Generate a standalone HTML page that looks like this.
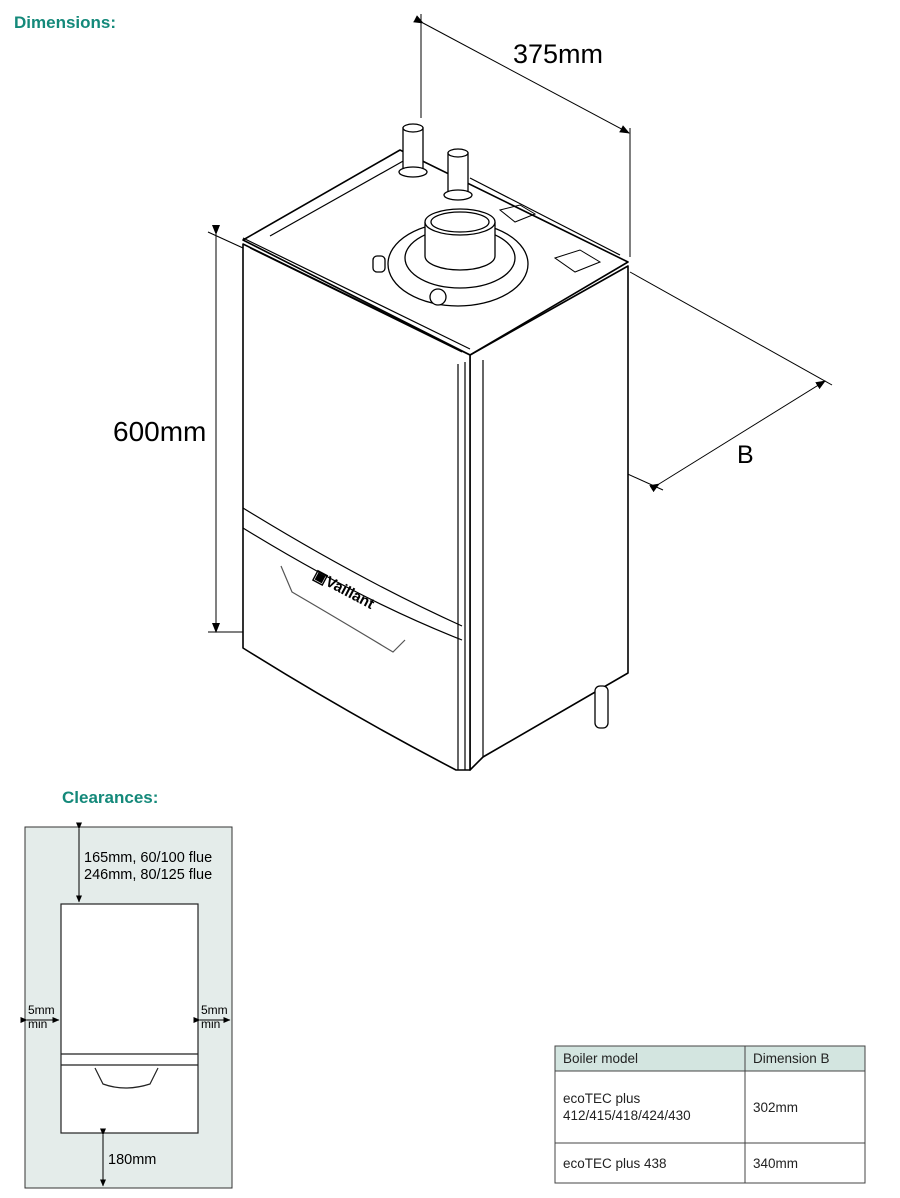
<!DOCTYPE html>
<html><head><meta charset="utf-8"><style>
html,body{margin:0;padding:0;background:#fff;}
svg{display:block;}
text{font-family:"Liberation Sans",sans-serif;}
</style></head><body>
<svg width="900" height="1198" viewBox="0 0 900 1198" xmlns="http://www.w3.org/2000/svg">
<defs>
<marker id="ar" markerWidth="10" markerHeight="8" refX="9" refY="4" orient="auto" markerUnits="userSpaceOnUse"><path d="M0,0 L10,4 L0,8 z" fill="#000"/></marker>
<marker id="as" markerWidth="7" markerHeight="6" refX="6.5" refY="3" orient="auto" markerUnits="userSpaceOnUse"><path d="M0,0 L7,3 L0,6 z" fill="#000"/></marker>
</defs>
<text x="14" y="28" font-size="17" font-weight="bold" fill="#14897a">Dimensions:</text>
<text x="62" y="803" font-size="17" font-weight="bold" fill="#14897a">Clearances:</text>

<g stroke="#000" fill="none" stroke-width="1">
<line x1="421" y1="14" x2="421" y2="118"/>
<line x1="630" y1="128" x2="630" y2="257"/>
<line x1="423" y1="23" x2="629" y2="133" marker-start="url(#ar)" marker-end="url(#ar)"/>
<line x1="208" y1="232" x2="243" y2="248"/>
<line x1="208" y1="632" x2="243" y2="632"/>
<line x1="216" y1="234" x2="216" y2="632" marker-start="url(#ar)" marker-end="url(#ar)"/>
<line x1="630" y1="272" x2="832" y2="385"/>
<line x1="460" y1="398" x2="663" y2="490"/>
<line x1="659" y1="484" x2="825" y2="381" marker-start="url(#ar)" marker-end="url(#ar)"/>
</g>
<text x="513" y="63" font-size="27">375mm</text>
<text x="113" y="441" font-size="28">600mm</text>
<text x="737" y="463" font-size="25">B</text>

<g stroke="#000" stroke-width="1.6" fill="#fff" stroke-linejoin="round">
<polygon points="470,355 628,266 628,673 483,757 470,770"/>
<polygon points="243,240 400,150 628,262 470,355"/>
<path d="M243,244 L470,355 L470,770 L456,770 Q345,712 243,648 Z"/>
</g>
<g stroke="#000" fill="none" stroke-width="1.2">
<line x1="483" y1="360" x2="483" y2="757"/>
<line x1="465" y1="362" x2="465" y2="770"/>
<line x1="458" y1="364" x2="458" y2="770"/>
<line x1="250" y1="248" x2="462" y2="352"/>
<line x1="243" y1="238" x2="470" y2="349"/>
<line x1="270" y1="236" x2="405" y2="160"/>
<line x1="470" y1="178" x2="620" y2="255"/>
<path d="M243,508 Q360,580 462,626"/>
<path d="M243,528 Q360,600 462,640"/>
<path d="M281,566 L292,592 Q340,620 393,652 L405,640" stroke="#555"/>
<polygon points="555,258 580,250 600,262 575,272" stroke-width="1"/>
<polygon points="500,210 520,205 535,214 515,222" stroke-width="1"/>
</g>
<g stroke="#000" stroke-width="1.3" fill="#fff">
<ellipse cx="458" cy="264" rx="70" ry="42"/>
<ellipse cx="460" cy="258" rx="55" ry="30"/>
<rect x="425" y="222" width="70" height="34" stroke="none"/>
<line x1="425" y1="222" x2="425" y2="256"/>
<line x1="495" y1="222" x2="495" y2="256"/>
<path d="M425,256 A35,14 0 0 0 495,256" fill="none"/>
<ellipse cx="460" cy="222" rx="35" ry="13"/>
<ellipse cx="460" cy="222" rx="29" ry="10"/>
<rect x="373" y="256" width="12" height="16" rx="4"/>
<circle cx="438" cy="297" r="8"/>
<rect x="403" y="128" width="20" height="42"/>
<ellipse cx="413" cy="128" rx="10" ry="4"/>
<ellipse cx="413" cy="172" rx="14" ry="5"/>
<rect x="448" y="153" width="20" height="40"/>
<ellipse cx="458" cy="153" rx="10" ry="4"/>
<ellipse cx="458" cy="195" rx="14" ry="5"/>
<rect x="595" y="686" width="13" height="42" rx="5"/>
</g>
<text x="0" y="0" font-size="15" font-weight="bold" transform="translate(312,578) rotate(28)" fill="#000">▣Vaillant</text>

<rect x="25" y="827" width="207" height="361" fill="#e4ecea" stroke="#333" stroke-width="1"/>
<rect x="61" y="904" width="137" height="229" fill="#fff" stroke="#222" stroke-width="1.2"/>
<g stroke="#222" fill="none" stroke-width="1.2">
<line x1="61" y1="1054" x2="198" y2="1054"/>
<line x1="61" y1="1065" x2="198" y2="1065"/>
<path d="M95,1068 L103,1084 Q125,1092 150,1084 L158,1068"/>
</g>
<g stroke="#000" stroke-width="1" fill="none">
<line x1="79" y1="829" x2="79" y2="902" marker-start="url(#as)" marker-end="url(#as)"/>
<line x1="103" y1="1135" x2="103" y2="1186" marker-start="url(#as)" marker-end="url(#as)"/>
<line x1="27" y1="1020" x2="59" y2="1020" marker-start="url(#as)" marker-end="url(#as)"/>
<line x1="200" y1="1020" x2="230" y2="1020" marker-start="url(#as)" marker-end="url(#as)"/>
</g>
<g font-size="14.5" fill="#000">
<text x="84" y="862">165mm, 60/100 flue</text>
<text x="84" y="879">246mm, 80/125 flue</text>
<text x="108" y="1164">180mm</text>
<text x="28" y="1014" font-size="12">5mm</text>
<text x="28" y="1028" font-size="12">min</text>
<text x="201" y="1014" font-size="12">5mm</text>
<text x="201" y="1028" font-size="12">min</text>
</g>

<rect x="555" y="1046" width="310" height="25" fill="#d3e5e0"/>
<g stroke="#444" stroke-width="1" fill="none">
<rect x="555" y="1046" width="310" height="137"/>
<line x1="555" y1="1071" x2="865" y2="1071"/>
<line x1="555" y1="1143" x2="865" y2="1143"/>
<line x1="745" y1="1046" x2="745" y2="1183"/>
</g>
<g font-size="13.5" fill="#222">
<text x="563" y="1063">Boiler model</text>
<text x="753" y="1063">Dimension B</text>
<text x="563" y="1103">ecoTEC plus</text>
<text x="563" y="1120">412/415/418/424/430</text>
<text x="753" y="1112">302mm</text>
<text x="563" y="1168">ecoTEC plus 438</text>
<text x="753" y="1168">340mm</text>
</g>
</svg>
</body></html>
